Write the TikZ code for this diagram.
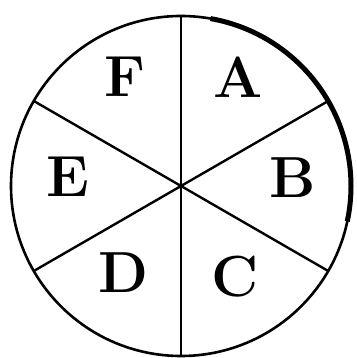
\documentclass[tikz,border=0pt]{standalone}
\begin{document}
\begin{tikzpicture}[x=1pt,y=1pt,
  sector/.style={font=\fontsize{58}{58}\selectfont\bfseries,inner sep=0pt}]
  \useasboundingbox (0,0) rectangle (356,358);
  \coordinate (O) at (181,172);
  \draw[line width=2.6] (O) circle (170);
  \draw[line width=5] ([shift={(80:170)}]O) arc (80:-12:170);
  \draw[line width=2.4] (O) -- ++(90:170);
  \draw[line width=2.4] (O) -- ++(270:170);
  \draw[line width=2.4] (O) -- ++(30:170);
  \draw[line width=2.4] (O) -- ++(150:170);
  \draw[line width=2.4] (O) -- ++(210:170);
  \draw[line width=2.4] (O) -- ++(330:170);
  \node[sector] (A) at (238,281) {A};
  \node[sector] (B) at (293,180) {B};
  \node[sector] (C) at (235,81) {C};
  \node[sector] (D) at (123,85) {D};
  \node[sector] (E) at (68,181) {E};
  \node[sector] (F) at (125,281) {F};
\end{tikzpicture}
\end{document}
